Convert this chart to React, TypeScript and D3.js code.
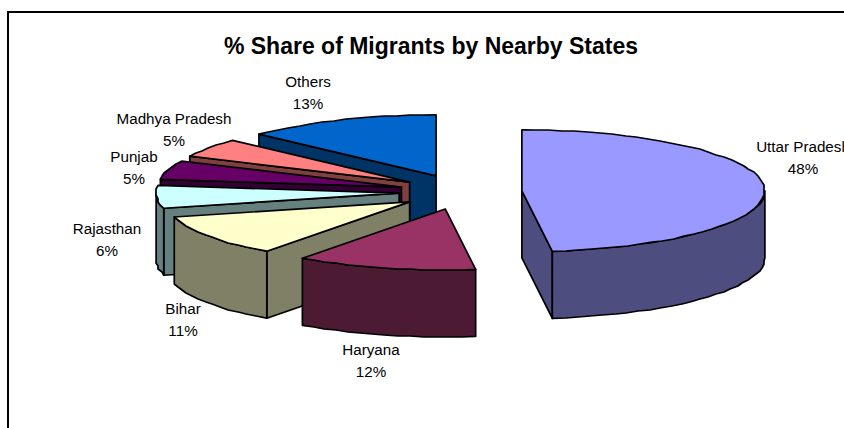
import React from 'react';
import * as d3 from 'd3';

const states = ['Uttar Pradesh', 'Haryana', 'Bihar', 'Rajasthan', 'Punjab', 'Madhya Pradesh', 'Others'];
const shares = [48, 12, 11, 6, 5, 5, 13];

const topColors = ['#9999FF', '#993366', '#FFFFCC', '#CCFFFF', '#660066', '#FF8080', '#0066CC'];
const sideColors = ['#4D4D80', '#4D1A33', '#808066', '#668080', '#330033', '#804040', '#003366'];

// label centres, same order as states
const labelX = [803, 371, 183, 107, 134, 174, 308];
const labelY = [152, 355, 314, 234, 162, 124, 87];

const width = 844;
const height = 428;

// pie layout, worked out from the slice corners
const centerX = 460.5;
const centerY = 192;
const rx = 243;
const ry = 61;
const depth = 67;
const explodeX = 61.5;
const explodeY = 17.5;

type Pt = [number, number];

const line = d3.line<Pt>();

// the original rim is a coarse polyline snapped to pixels
const arcPoints = (cx: number, cy: number, a0: number, a1: number): Pt[] => {
  const n = Math.max(2, Math.ceil((a1 - a0) / 0.055));
  return d3.range(n + 1).map((i) => {
    const a = a0 + ((a1 - a0) * i) / n;
    const onEnd = i === 0 || i === n;
    const x = cx + rx * Math.sin(a);
    const y = cy - ry * Math.cos(a);
    return (onEnd ? [x, y] : [Math.round(x / 2) * 2, Math.round(y)]) as Pt;
  });
};

const drop = (pts: Pt[]): Pt[] => pts.map(([x, y]) => [x, y + depth] as Pt);

export default function App() {
  const slices = d3.pie<number>().sort(null).value((d) => d)(shares);

  return (
    <svg
      width={width}
      height={height}
      style={{ position: 'absolute', left: 0, top: 0, background: '#fff' }}
      fontFamily="'Liberation Sans', Arial, sans-serif"
    >
      <rect x={8} y={12} width={width + 20} height={height + 20} fill="#fff" stroke="#000" strokeWidth={2} />
      <text x={431} y={54} textAnchor="middle" fontSize={23} fontWeight="bold" fill="#000">
        % Share of Migrants by Nearby States
      </text>

      {/* back to front, so the big slice goes last */}
      {[6, 5, 4, 3, 2, 1, 0].map((i) => {
        const s = slices[i];
        const mid = (s.startAngle + s.endAngle) / 2;
        const cx = centerX + explodeX * Math.sin(mid);
        const cy = centerY - explodeY * Math.cos(mid);
        const rim = arcPoints(cx, cy, s.startAngle, s.endAngle);
        const apex: Pt = [cx, cy];

        const radialFace = (a: number) => {
          const p: Pt = [cx + rx * Math.sin(a), cy - ry * Math.cos(a)];
          return line([apex, p, [p[0], p[1] + depth], [cx, cy + depth]]) + 'Z';
        };

        const wallFrom = Math.max(s.startAngle, Math.PI / 2);
        const wallTo = Math.min(s.endAngle, (3 * Math.PI) / 2);
        let wall: string | null = null;
        if (wallTo > wallFrom) {
          const top = arcPoints(cx, cy, wallFrom, wallTo);
          wall = line([...top, ...drop(top).reverse()]) + 'Z';
        }

        return (
          <g key={states[i]} stroke="#000" strokeWidth={1.7} strokeLinejoin="round">
            {Math.sin(s.startAngle) < -1e-6 && <path d={radialFace(s.startAngle)} fill={sideColors[i]} />}
            {Math.sin(s.endAngle) > 1e-6 && <path d={radialFace(s.endAngle)} fill={sideColors[i]} />}
            {wall && <path d={wall} fill={sideColors[i]} />}
            <path d={line([apex, ...rim]) + 'Z'} fill={topColors[i]} />
          </g>
        );
      })}

      {states.map((name, i) => (
        <text key={name} x={labelX[i]} y={labelY[i]} textAnchor="middle" fontSize={15.2} fill="#000">
          <tspan x={labelX[i]}>{name}</tspan>
          <tspan x={labelX[i]} dy={22}>{shares[i]}%</tspan>
        </text>
      ))}
    </svg>
  );
}
